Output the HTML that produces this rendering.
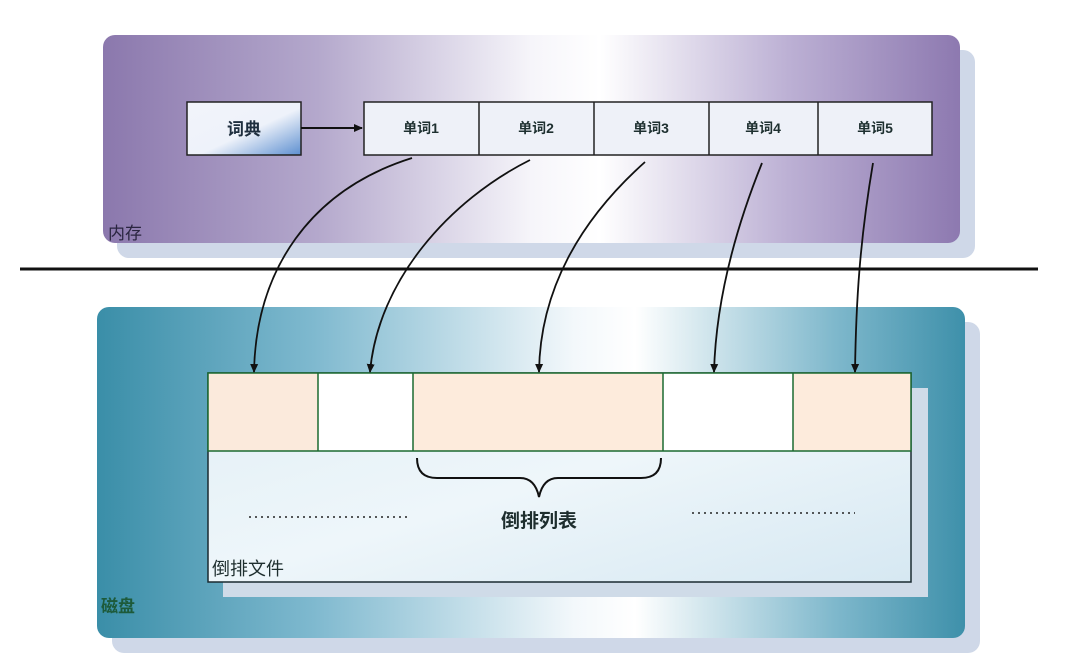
<!DOCTYPE html>
<html><head><meta charset="utf-8"><style>
html,body{margin:0;padding:0;background:#fff;}
svg{display:block}
text{font-family:"Liberation Sans","Noto Sans CJK SC",sans-serif;}
</style></head><body>
<svg width="1076" height="670" viewBox="0 0 1076 670" xmlns="http://www.w3.org/2000/svg">
<defs>
<linearGradient id="mem" x1="0" x2="1" y1="0" y2="0">
<stop offset="0" stop-color="#8b78ad"/><stop offset="0.25" stop-color="#b4a8cc"/>
<stop offset="0.5" stop-color="#f6f5fa"/><stop offset="0.58" stop-color="#ffffff"/>
<stop offset="0.8" stop-color="#bcb0d4"/><stop offset="1" stop-color="#8d79b0"/></linearGradient>
<linearGradient id="disk" x1="0" x2="1" y1="0" y2="0">
<stop offset="0" stop-color="#3a8ea8"/><stop offset="0.25" stop-color="#7fb9cf"/>
<stop offset="0.55" stop-color="#f3f8fb"/><stop offset="0.62" stop-color="#ffffff"/>
<stop offset="0.85" stop-color="#7fb8cc"/><stop offset="1" stop-color="#3e90aa"/></linearGradient>
<linearGradient id="dict" x1="0" y1="0" x2="1" y2="1">
<stop offset="0" stop-color="#f2f4fa"/><stop offset="0.55" stop-color="#eef2fa"/><stop offset="1" stop-color="#5d8fd0"/></linearGradient>
<linearGradient id="file" x1="0" x2="1" y1="0" y2="1">
<stop offset="0" stop-color="#e2eff6"/><stop offset="0.5" stop-color="#eef6fa"/><stop offset="1" stop-color="#d6e8f2"/></linearGradient>
<marker id="ah" markerWidth="10" markerHeight="10" refX="8" refY="5" orient="auto" markerUnits="userSpaceOnUse">
<path d="M0,1 L9,5 L0,9 Z" fill="#111"/></marker>
</defs>
<!-- memory -->
<rect x="117" y="50" width="858" height="208" rx="12" fill="#cfd8e8"/>
<rect x="103" y="35" width="857" height="208" rx="12" fill="url(#mem)"/>
<text x="108" y="239" font-size="17" fill="#2a2540">内存</text>
<rect x="187" y="102" width="114" height="53" fill="url(#dict)" stroke="#222" stroke-width="1.5"/>
<text x="244" y="135" font-size="17" font-weight="bold" text-anchor="middle" fill="#1e2e3e">词典</text>
<line x1="301" y1="128" x2="362" y2="128" stroke="#111" stroke-width="2" marker-end="url(#ah)"/>
<rect x="364" y="102" width="568" height="53" fill="#eef1f8" stroke="#222" stroke-width="1.5"/>
<g stroke="#222" stroke-width="1.5"><line x1="479" y1="102" x2="479" y2="155"/><line x1="594" y1="102" x2="594" y2="155"/><line x1="709" y1="102" x2="709" y2="155"/><line x1="818" y1="102" x2="818" y2="155"/></g>
<g font-size="14" font-weight="bold" text-anchor="middle" fill="#1e3030">
<text x="421" y="133">单词1</text><text x="536" y="133">单词2</text><text x="651" y="133">单词3</text><text x="763" y="133">单词4</text><text x="875" y="133">单词5</text></g>
<line x1="20" y1="269" x2="1038" y2="269" stroke="#111" stroke-width="3"/>
<!-- disk -->
<rect x="112" y="322" width="868" height="331" rx="12" fill="#cfd8e8"/>
<rect x="97" y="307" width="868" height="331" rx="12" fill="url(#disk)"/>
<text x="101" y="612" font-size="17" font-weight="bold" fill="#1d5a3a">磁盘</text>
<rect x="223" y="388" width="705" height="209" fill="#cfdbe8"/>
<rect x="208" y="373" width="703" height="209" fill="url(#file)" stroke="#1a2a30" stroke-width="1.5"/>
<rect x="208" y="373" width="110" height="78" fill="#fbeadc"/>
<rect x="318" y="373" width="95" height="78" fill="#ffffff"/>
<rect x="413" y="373" width="250" height="78" fill="#fdebdc"/>
<rect x="663" y="373" width="130" height="78" fill="#ffffff"/>
<rect x="793" y="373" width="118" height="78" fill="#fdebdc"/>
<g stroke="#1b6a30" stroke-width="1.5" fill="none">
<rect x="208" y="373" width="703" height="78"/>
<line x1="318" y1="373" x2="318" y2="451"/><line x1="413" y1="373" x2="413" y2="451"/><line x1="663" y1="373" x2="663" y2="451"/><line x1="793" y1="373" x2="793" y2="451"/></g>
<path d="M417,458 Q417,478 437,478 L520,478 Q535,478 539,497 Q543,478 558,478 L641,478 Q661,478 661,458" fill="none" stroke="#111" stroke-width="2"/>
<text x="539" y="527" font-size="19" font-weight="bold" text-anchor="middle" fill="#1e2e2e">倒排列表</text>
<line x1="249" y1="517" x2="411" y2="517" stroke="#222" stroke-width="1.5" stroke-dasharray="2,4"/>
<line x1="692" y1="513" x2="855" y2="513" stroke="#222" stroke-width="1.5" stroke-dasharray="2,4"/>
<text x="212" y="575" font-size="18" fill="#1e2e2e">倒排文件</text>
<!-- arrows -->
<g stroke="#111" stroke-width="1.8" fill="none" marker-end="url(#ah)">
<path d="M412,158 C310,190 256,270 254,372"/>
<path d="M530,160 C450,200 378,280 370,372"/>
<path d="M645,162 C580,220 540,290 539,372"/>
<path d="M762,163 C735,230 716,300 714,372"/>
<path d="M873,163 C860,240 856,300 855,372"/>
</g>
</svg>
</body></html>
